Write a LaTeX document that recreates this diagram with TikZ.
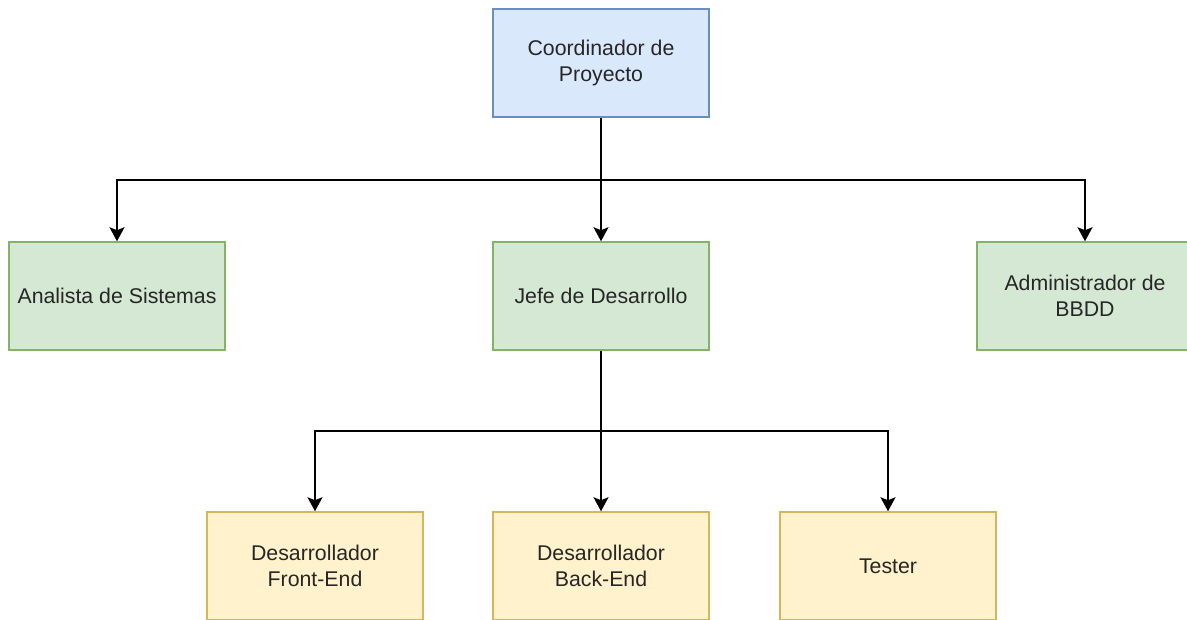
\documentclass[tikz,border=0pt]{standalone}
\usepackage{fontspec}
\setmainfont{Liberation Sans}
\usetikzlibrary{arrows.meta}
\definecolor{bfill}{HTML}{DAE8FC}\definecolor{bline}{HTML}{6C8EBF}
\definecolor{gfill}{HTML}{D5E8D4}\definecolor{gline}{HTML}{82B366}
\definecolor{yfill}{HTML}{FFF2CC}\definecolor{yline}{HTML}{D6B656}
\tikzset{
  box/.style={draw, line width=1.5pt, minimum width=216pt, minimum height=108pt, inner sep=0pt, align=center,
    font=\fontsize{21.3pt}{25.5pt}\selectfont, text=black!85},
  bluebox/.style={box, fill=bfill, draw=bline},
  greenbox/.style={box, fill=gfill, draw=gline},
  yellowbox/.style={box, fill=yfill, draw=yline},
  arr/.style={line width=1.8pt, -{Stealth[length=14pt,width=15pt,inset=3pt]}},
}
\begin{document}
\begin{tikzpicture}[x=1pt,y=-1pt]
\useasboundingbox (0,0) rectangle (1187,619);
\clip (0,0) rectangle (1187,619);
\fill[white] (0,0) rectangle (1187,619);
\node[bluebox] (coord) at (601,63) {Coordinador de\\Proyecto};
\node[greenbox] (an) at (117,296) {Analista de Sistemas};
\node[greenbox] (jefe) at (601,296) {Jefe de Desarrollo};
\node[greenbox] (adm) at (1085,296) {Administrador de\\BBDD};
\node[yellowbox] (fe) at (315,566) {Desarrollador\\Front-End};
\node[yellowbox] (be) at (601,566) {Desarrollador\\Back-End};
\node[yellowbox] (te) at (888,566) {Tester};
\coordinate (b1) at (601,180);
\coordinate (b2) at (601,431);
\draw[arr] (coord) -- (jefe);
\draw[arr] (b1) -| (an.north);
\draw[arr] (b1) -| (adm.north);
\draw[arr] (jefe) -- (be);
\draw[arr] (b2) -| (fe.north);
\draw[arr] (b2) -| (te.north);
\end{tikzpicture}
\end{document}
